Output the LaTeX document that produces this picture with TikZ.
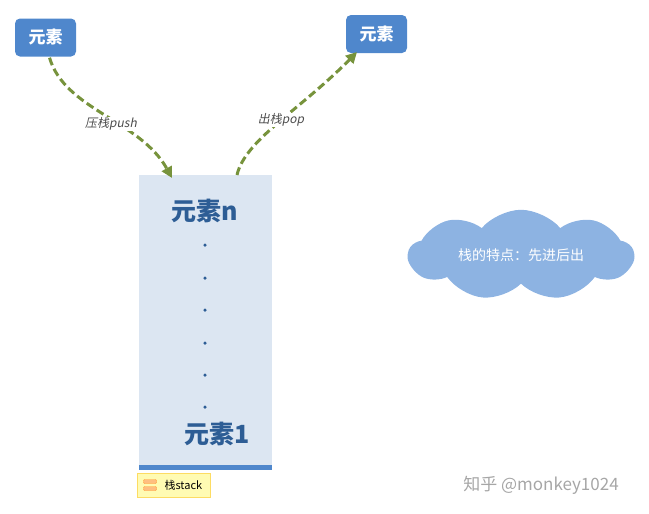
\documentclass[tikz,border=0pt]{standalone}
\usepackage{fontspec}
\setmainfont{Noto Sans CJK SC}
\newfontfamily\slantcjk[FakeSlant=0.2]{Noto Sans CJK SC}
\usetikzlibrary{shapes.symbols,arrows.meta}
\definecolor{nodeblue}{HTML}{4F87CC}
\definecolor{stackfill}{HTML}{DCE6F2}
\definecolor{darkblue}{HTML}{2D5D95}
\definecolor{arrowgreen}{HTML}{77933C}
\definecolor{cloudblue}{HTML}{8DB3E2}
\begin{document}
\begin{tikzpicture}[x=1pt,y=-1pt,
  elem/.style={fill=nodeblue,rounded corners=5pt,text=white,font=\bfseries\fontsize{17}{17}\selectfont,minimum width=61pt,minimum height=38pt,inner sep=0pt},
  flow/.style={draw=arrowgreen,line width=3pt,dash pattern=on 8pt off 4pt,-{Triangle[length=11pt,width=11pt]}},
  lbl/.style={fill=white,inner sep=1pt,text=black!70,font=\slantcjk\fontsize{12}{12}\selectfont},
  big/.style={text=darkblue,font=\bfseries\fontsize{25}{25}\selectfont},
  dot/.style={circle,fill=darkblue,inner sep=0pt,minimum size=3.5pt}]
\useasboundingbox (0,0) rectangle (649,514);
\node[elem] (e1) at (45.5,37.5) {元素};
\node[elem] (e2) at (376.5,34) {元素};
\node[fill=stackfill,minimum width=133pt,minimum height=290pt,inner sep=0pt] (stk) at (205.5,320) {};
\fill[nodeblue] (stk.south west) rectangle ([yshift=-5pt]stk.south east);
\node[big] (tn) at (205,211) {元素n};
\foreach \y [count=\i] in {245,278,310,343,375,407}{\node[dot] (d\i) at (205,\y) {};}
\node[big] (t1) at (217,434) {元素1};
\node[fill=yellow!30,draw=yellow!60!orange!60,inner sep=0pt,minimum width=73pt,minimum height=24pt] (tag) at (173.5,485) {};
\node[font=\fontsize{11}{11}\selectfont,anchor=west] (tagt) at (161,485) {栈stack};
\node[fill=orange!50,draw=orange!80,rounded corners=1pt,minimum width=13pt,minimum height=4pt,inner sep=0pt] (ic1) at (150,481.5) {};
\node[fill=orange!50,draw=orange!80,rounded corners=1pt,minimum width=13pt,minimum height=4pt,inner sep=0pt] (ic2) at (150,488.5) {};
\node[cloud,cloud puffs=9,cloud puff arc=100,aspect=2.7,fill=cloudblue,text=white,font=\fontsize{14}{14}\selectfont,minimum width=225pt,minimum height=85pt,inner sep=0pt] (cl) at (521,255) {栈的特点：先进后出};
\node[text=black!35,font=\fontsize{17}{17}\selectfont] (wm) at (541,485) {知乎 @monkey1024};
\coordinate (pin) at (172,178);
\coordinate (pout) at (237,175);
\draw[flow] (e1.south) ++(4,1) .. controls (65,110) and (140,120) .. (pin);
\draw[flow] (pout) .. controls (245,140) and (300,110) .. (357,52);
\node[lbl] (l1) at (111,124) {压栈push};
\node[lbl] (l2) at (281,120) {出栈pop};
\end{tikzpicture}
\end{document}
